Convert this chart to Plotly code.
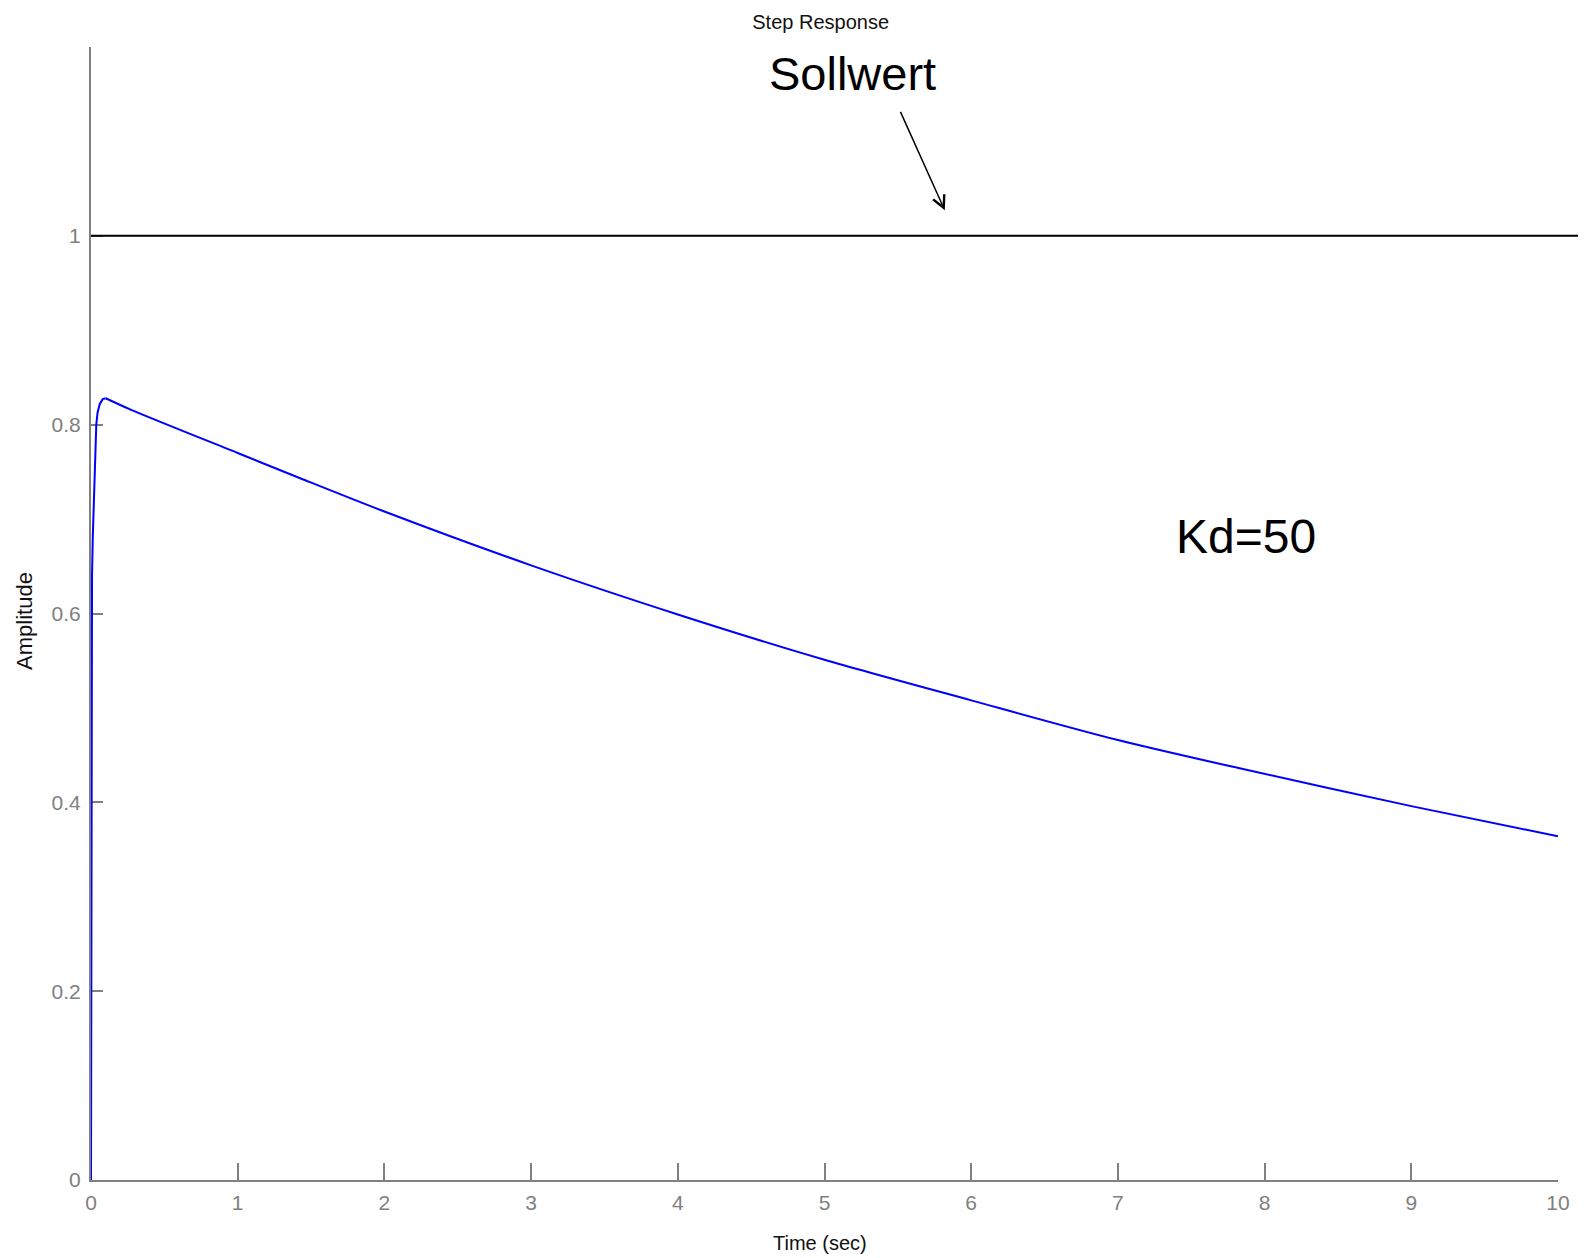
import plotly.graph_objects as go

# Step response data: initial rise and slow decay
t_rise = [0, 0.002, 0.007, 0.012, 0.02, 0.028, 0.036, 0.045, 0.06, 0.08, 0.1]
amp_rise = [0, 0.48, 0.64, 0.68, 0.73, 0.78, 0.80, 0.813, 0.822, 0.827, 0.828]

t_decay = [0.1, 0.27, 1, 1.43, 2, 3, 4, 5, 6, 7, 7.83, 9, 10]
amp_decay = [0.828, 0.816, 0.770, 0.743, 0.708, 0.651, 0.599, 0.551,
             0.508, 0.466, 0.436, 0.396, 0.364]

setpoint = 1.0
x_ticks = [0, 1, 2, 3, 4, 5, 6, 7, 8, 9, 10]
y_ticks = [0, 0.2, 0.4, 0.6, 0.8, 1]
y_tick_labels = ["0", "0.2", "0.4", "0.6", "0.8", "1"]

FONT = "Liberation Sans, Arial, sans-serif"
GRAY = "#808080"
DARK = "#111111"

fig = go.Figure()
fig.add_trace(go.Scatter(x=t_rise, y=amp_rise, mode="lines",
                         line=dict(color="#0000ff", width=2),
                         cliponaxis=False, showlegend=False))
fig.add_trace(go.Scatter(x=t_decay, y=amp_decay, mode="lines",
                         line=dict(color="#0000ff", width=2, shape="spline", smoothing=0.8),
                         cliponaxis=False, showlegend=False))

# Sollwert line (extends past the plot to the right edge)
fig.add_shape(type="line", xref="paper", yref="y", x0=0, x1=1.03,
              y0=setpoint, y1=setpoint, line=dict(color="black", width=2))

fig.add_annotation(x=5.82, y=1.027, xref="x", yref="y", text="",
                   showarrow=True, arrowhead=5, arrowsize=1.6, arrowwidth=1.5,
                   arrowcolor="black", ax=-45, ay=-100, axref="pixel", ayref="pixel")
fig.add_annotation(x=5.194, y=1.172, xref="x", yref="y", text="Sollwert",
                   showarrow=False, font=dict(family=FONT, size=47, color="black"))
fig.add_annotation(x=7.873, y=0.682, xref="x", yref="y", text="Kd=50",
                   showarrow=False, font=dict(family=FONT, size=48, color="black"))

# axis titles
fig.add_annotation(x=0.497, y=-0.0556, xref="paper", yref="paper", text="Time (sec)",
                   showarrow=False, xanchor="center", yanchor="middle",
                   font=dict(family=FONT, size=20, color=DARK))
fig.add_annotation(x=-0.045, y=0.4934, xref="paper", yref="paper", text="Amplitude",
                   showarrow=False, xanchor="center", yanchor="middle", textangle=-90,
                   font=dict(family=FONT, size=22, color=DARK))

fig.update_layout(
    width=1578, height=1250,
    margin=dict(l=83, r=28, t=39, b=78, autoexpand=False),
    paper_bgcolor="white", plot_bgcolor="white",
    title=dict(text="Step Response", x=0.515, xanchor="center", y=0.9888, yanchor="middle",
               font=dict(family=FONT, size=20, color=DARK)),
    xaxis=dict(range=[0, 10], tickvals=x_ticks, ticks="inside", ticklen=17,
               tickwidth=2, tickcolor=GRAY, showline=True, linecolor=GRAY, linewidth=2,
               showgrid=False, zeroline=False, layer="below traces", automargin=False,
               ticklabelstandoff=3,
               tickfont=dict(family=FONT, size=21, color=GRAY)),
    yaxis=dict(range=[0, 1.2], tickvals=y_ticks, ticktext=y_tick_labels, ticks="inside",
               ticklen=12, tickwidth=2, tickcolor=GRAY, showline=True, linecolor=GRAY,
               linewidth=2, showgrid=False, zeroline=False, layer="below traces",
               automargin=False, ticklabelstandoff=4,
               tickfont=dict(family=FONT, size=21, color=GRAY)),
)

fig.write_html("out.html")
